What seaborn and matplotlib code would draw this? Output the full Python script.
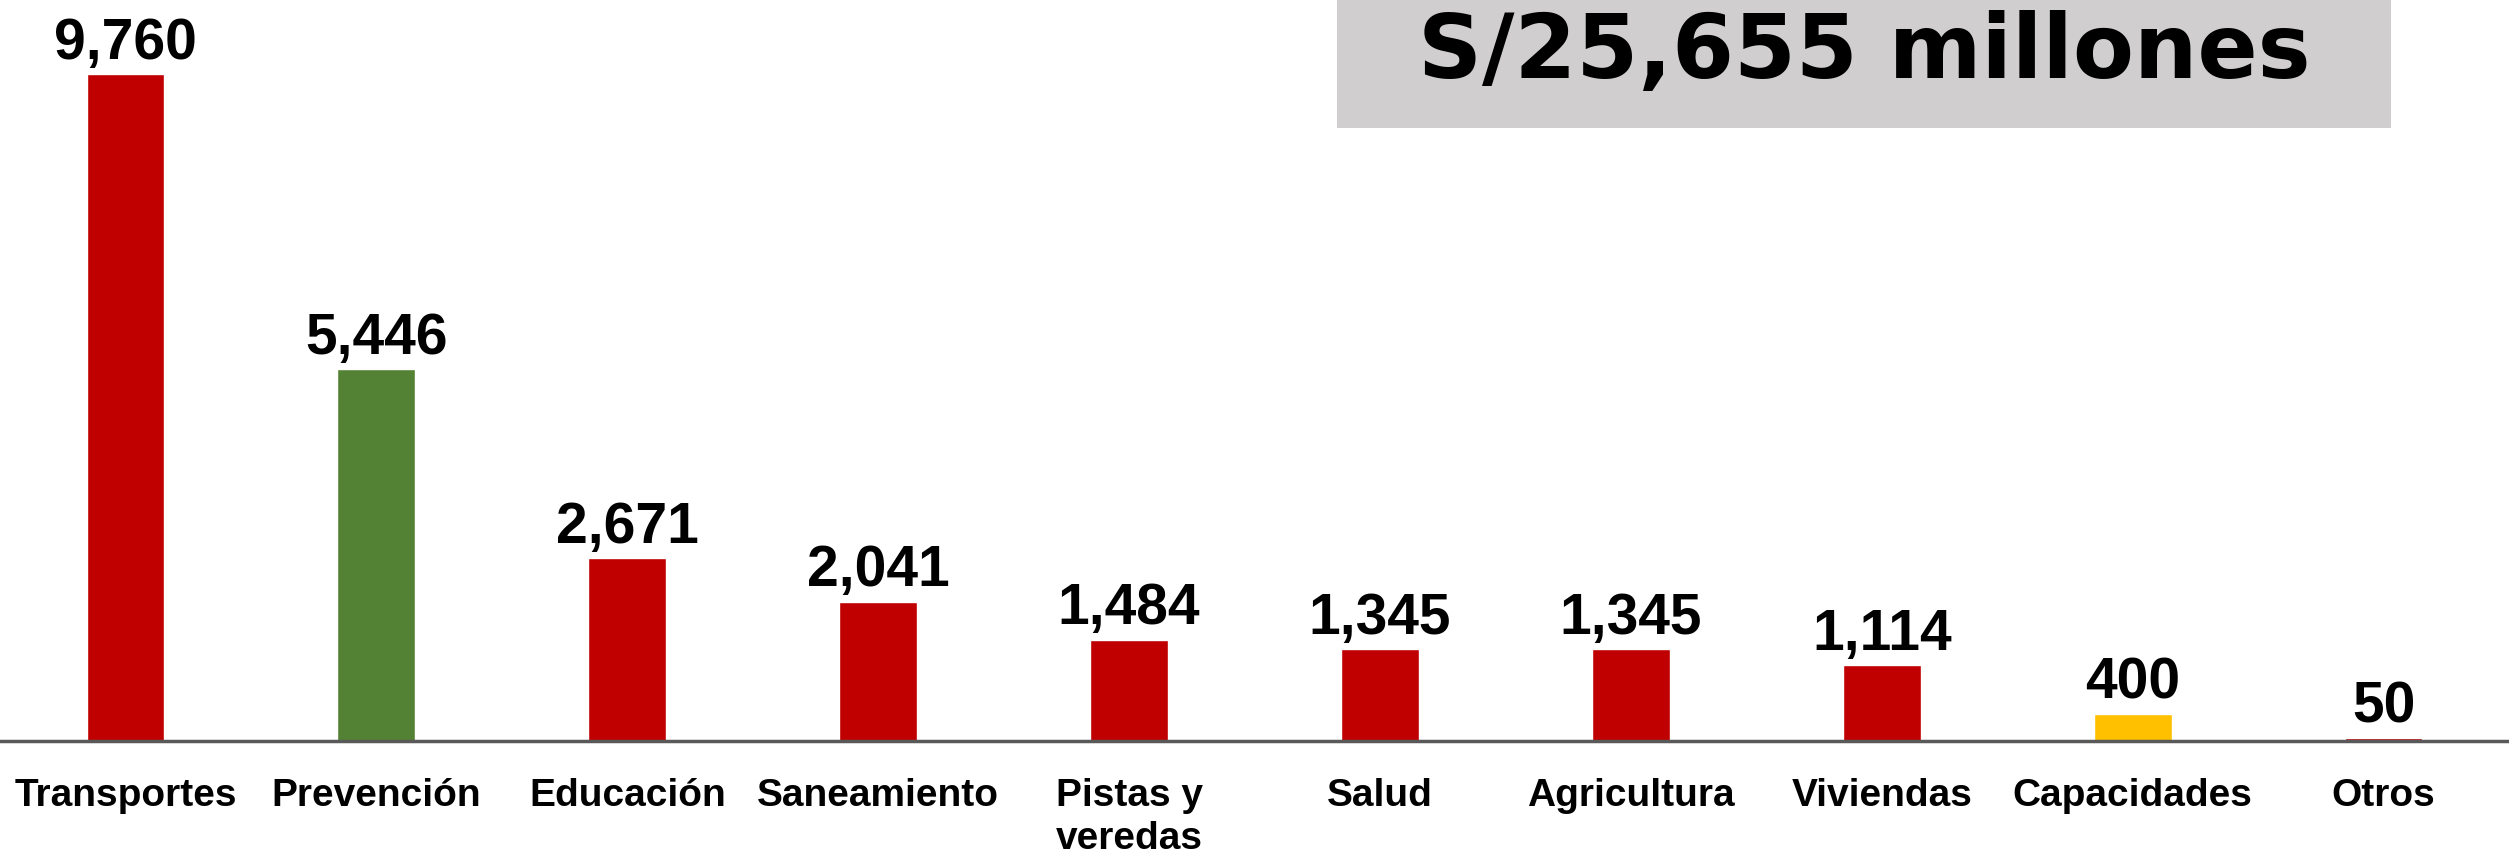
import matplotlib
matplotlib.use('Agg')
import matplotlib.pyplot as plt
from matplotlib.patches import Rectangle
import seaborn as sns
import pandas as pd

categories = ['Transportes', 'Prevención', 'Educación', 'Saneamiento', 'Pistas y\nveredas',
              'Salud', 'Agricultura', 'Viviendas', 'Capacidades', 'Otros']
values = [9760, 5446, 2671, 2041, 1484, 1345, 1345, 1114, 400, 50]
bar_colors = ['#C00000', '#548235', '#C00000', '#C00000', '#C00000',
              '#C00000', '#C00000', '#C00000', '#FFC000', '#C00000']
total_text = 'S/25,655 millones'

sns.set_style('white')
plt.rcParams['font.family'] = ['Liberation Sans', 'DejaVu Sans']
plt.rcParams['text.color'] = 'black'
plt.rcParams['xtick.color'] = 'black'

df = pd.DataFrame({'categoria': categories, 'monto': values})

fig = plt.figure(figsize=(25.09, 8.64), dpi=100)
ax = fig.add_axes([0, 0.1424, 1, 0.854])

sns.barplot(data=df, x='categoria', y='monto', hue='categoria', palette=bar_colors,
            legend=False, width=0.31, saturation=1, ax=ax)

ax.set_xlim(-0.5, len(categories) - 0.5)
ax.set_ylim(0, 10800)
ax.set_xlabel('')
ax.set_ylabel('')
ax.set_yticks([])
sns.despine(ax=ax, left=True)
ax.spines['bottom'].set_color('#595959')
ax.spines['bottom'].set_linewidth(2.5)
ax.tick_params(axis='x', length=0, pad=27)
for lbl in ax.get_xticklabels():
    lbl.set_fontsize(28)
    lbl.set_fontweight('bold')
    lbl.set_linespacing(1.25)

for i, v in enumerate(values):
    ax.annotate(f'{v:,}', (i, v), xytext=(0, 11), textcoords='offset points',
                ha='center', va='baseline', fontsize=41, fontweight='bold')

fig.patches.append(Rectangle((0.533, 0.852), 0.420, 0.148, transform=fig.transFigure,
                             facecolor='#D0CECE', edgecolor='none', zorder=0))
fig.text(0.743, 0.938, total_text, ha='center', va='center', fontsize=64,
         fontweight='bold', family=['DejaVu Sans'])

fig.savefig('out.png', dpi=100)
